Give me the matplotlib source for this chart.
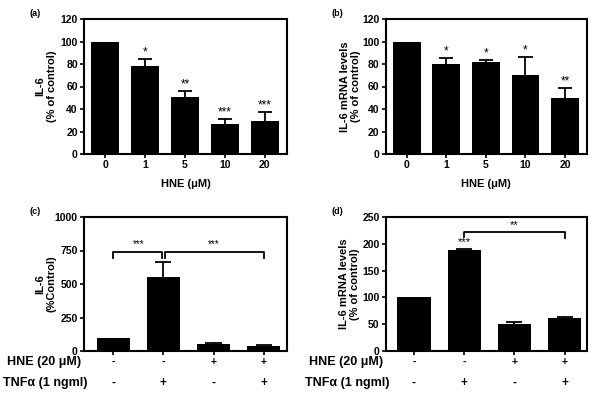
import numpy as np
import matplotlib.pyplot as plt
from matplotlib.transforms import blended_transform_factory

plt.rcParams['font.family'] = ['Liberation Sans', 'DejaVu Sans']
plt.rcParams['font.weight'] = 'bold'

# panels (a), (b): HNE dose response
doses = ['0', '1', '5', '10', '20']
protein = [100, 78, 51, 27, 29]
protein_err = [0, 6.5, 5, 4.5, 8.5]
protein_sig = ['', '*', '**', '***', '***']
mrna = [100, 80, 82, 70, 50]
mrna_err = [0, 5.5, 1.5, 16, 8.5]
mrna_sig = ['', '*', '*', '*', '**']

# panels (c), (d): HNE / TNFa combinations
hne_row = ['-', '-', '+', '+']
tnf_row = ['-', '+', '-', '+']
tnf_protein = [100, 550, 55, 38]
tnf_protein_err = [0, 115, 8, 5]
tnf_mrna = [100, 188, 51, 61]
tnf_mrna_err = [0, 3, 3, 3]


def style_axes(ax):
    for s in ax.spines.values():
        s.set_linewidth(1.5)
    ax.tick_params(axis='both', direction='out', length=3, width=1.2,
                   labelsize=7.5, pad=1.5)
    for lab in ax.get_yticklabels() + ax.get_xticklabels():
        lab.set_fontweight('bold')


def set_ylab(ax, text, xpos):
    ax.set_ylabel(text, fontsize=8, fontweight='bold', va='center')
    ax.yaxis.set_label_coords(xpos, 0.5)


def draw_bars(ax, values, errs, width, cap):
    x = np.arange(len(values))
    ax.bar(x, values, width=width, color='black', linewidth=0)
    # upper-only error bars
    for i in range(len(values)):
        if errs[i] > 0:
            top = values[i] + errs[i]
            ax.vlines(x[i], values[i], top, color='black', lw=1.3)
            ax.hlines(top, x[i] - cap, x[i] + cap, color='black', lw=1.3)
    return x


fig = plt.figure(figsize=(6, 4), dpi=100)

# (a)
ax = fig.add_axes([0.14, 0.615, 0.338, 0.3375])
x = draw_bars(ax, protein, protein_err, 0.7, 0.18)
for i in range(len(x)):
    ax.text(x[i], protein[i] + protein_err[i] + 0.5, protein_sig[i], ha='center',
            va='bottom', fontsize=8.5, fontweight='normal')
ax.set_xlim(-0.53, 4.55)
ax.set_ylim(0, 120)
ax.set_yticks(range(0, 121, 20))
ax.set_xticks(x)
ax.set_xticklabels(doses)
set_ylab(ax, 'IL-6\n(% of control)', -0.187)
ax.set_xlabel('HNE (\u03bcM)', fontsize=8, fontweight='bold', labelpad=6)
style_axes(ax)
fig.text(29 / 600, 1 - 13 / 400, '(a)', fontsize=6.5, fontweight='bold', va='center')

# (b)
ax = fig.add_axes([0.643, 0.615, 0.335, 0.3375])
x = draw_bars(ax, mrna, mrna_err, 0.7, 0.18)
for i in range(len(x)):
    ax.text(x[i], mrna[i] + mrna_err[i] + 0.5, mrna_sig[i], ha='center',
            va='bottom', fontsize=8.5, fontweight='normal')
ax.set_xlim(-0.53, 4.55)
ax.set_ylim(0, 120)
ax.set_yticks(range(0, 121, 20))
ax.set_xticks(x)
ax.set_xticklabels(doses)
set_ylab(ax, 'IL-6 mRNA levels\n(% of control)', -0.175)
ax.set_xlabel('HNE (\u03bcM)', fontsize=8, fontweight='bold', labelpad=6)
style_axes(ax)
fig.text(332 / 600, 1 - 13 / 400, '(b)', fontsize=6.5, fontweight='bold', va='center')


def combo_labels(ax, x0):
    ax.set_xticks(range(4))
    ax.set_xticklabels(hne_row, fontsize=8.5)
    tr = blended_transform_factory(ax.transData, ax.transAxes)
    for i in range(4):
        ax.text(i, -0.24, tnf_row[i], transform=tr, ha='center', va='center',
                fontsize=8.5, fontweight='bold')
    fig.text(x0 + 4 / 600, 1 - 362 / 400, 'HNE (20 \u03bcM)', ha='left',
             va='center', fontsize=9, fontweight='bold')
    fig.text(x0, 1 - 383 / 400, 'TNF\u03b1 (1 ngml)', ha='left',
             va='center', fontsize=9, fontweight='bold')


# (c)
ax = fig.add_axes([0.14, 0.1225, 0.338, 0.335])
x = draw_bars(ax, tnf_protein, tnf_protein_err, 0.66, 0.16)
ax.set_xlim(-0.58, 3.46)
ax.set_ylim(0, 1000)
ax.set_yticks([0, 250, 500, 750, 1000])
ax.plot([0, 0, 0.97, 0.97], [694, 739, 739, 694], color='black', lw=1.3)
ax.plot([1.03, 1.03, 3, 3], [694, 739, 739, 694], color='black', lw=1.3)
ax.text(0.5, 800, '***', ha='center', va='center', fontsize=7, fontweight='normal')
ax.text(2.0, 800, '***', ha='center', va='center', fontsize=7, fontweight='normal')
set_ylab(ax, 'IL-6\n(%Control)', -0.187)
combo_labels(ax, 3 / 600)
style_axes(ax)
fig.text(29 / 600, 1 - 211 / 400, '(c)', fontsize=6.5, fontweight='bold', va='center')

# (d)
ax = fig.add_axes([0.643, 0.1225, 0.335, 0.335])
x = draw_bars(ax, tnf_mrna, tnf_mrna_err, 0.66, 0.16)
ax.set_xlim(-0.56, 3.44)
ax.set_ylim(0, 250)
ax.set_yticks(range(0, 251, 50))
ax.plot([1, 1, 3, 3], [213, 222, 222, 211], color='black', lw=1.3)
ax.text(2.0, 235, '**', ha='center', va='center', fontsize=8, fontweight='normal')
ax.text(1, 194, '***', ha='center', va='bottom', fontsize=8, fontweight='normal')
set_ylab(ax, 'IL-6 mRNA levels\n(% of control)', -0.18)
combo_labels(ax, 305 / 600)
style_axes(ax)
fig.text(332 / 600, 1 - 211 / 400, '(d)', fontsize=6.5, fontweight='bold', va='center')

fig.savefig('out.png', dpi=100)
